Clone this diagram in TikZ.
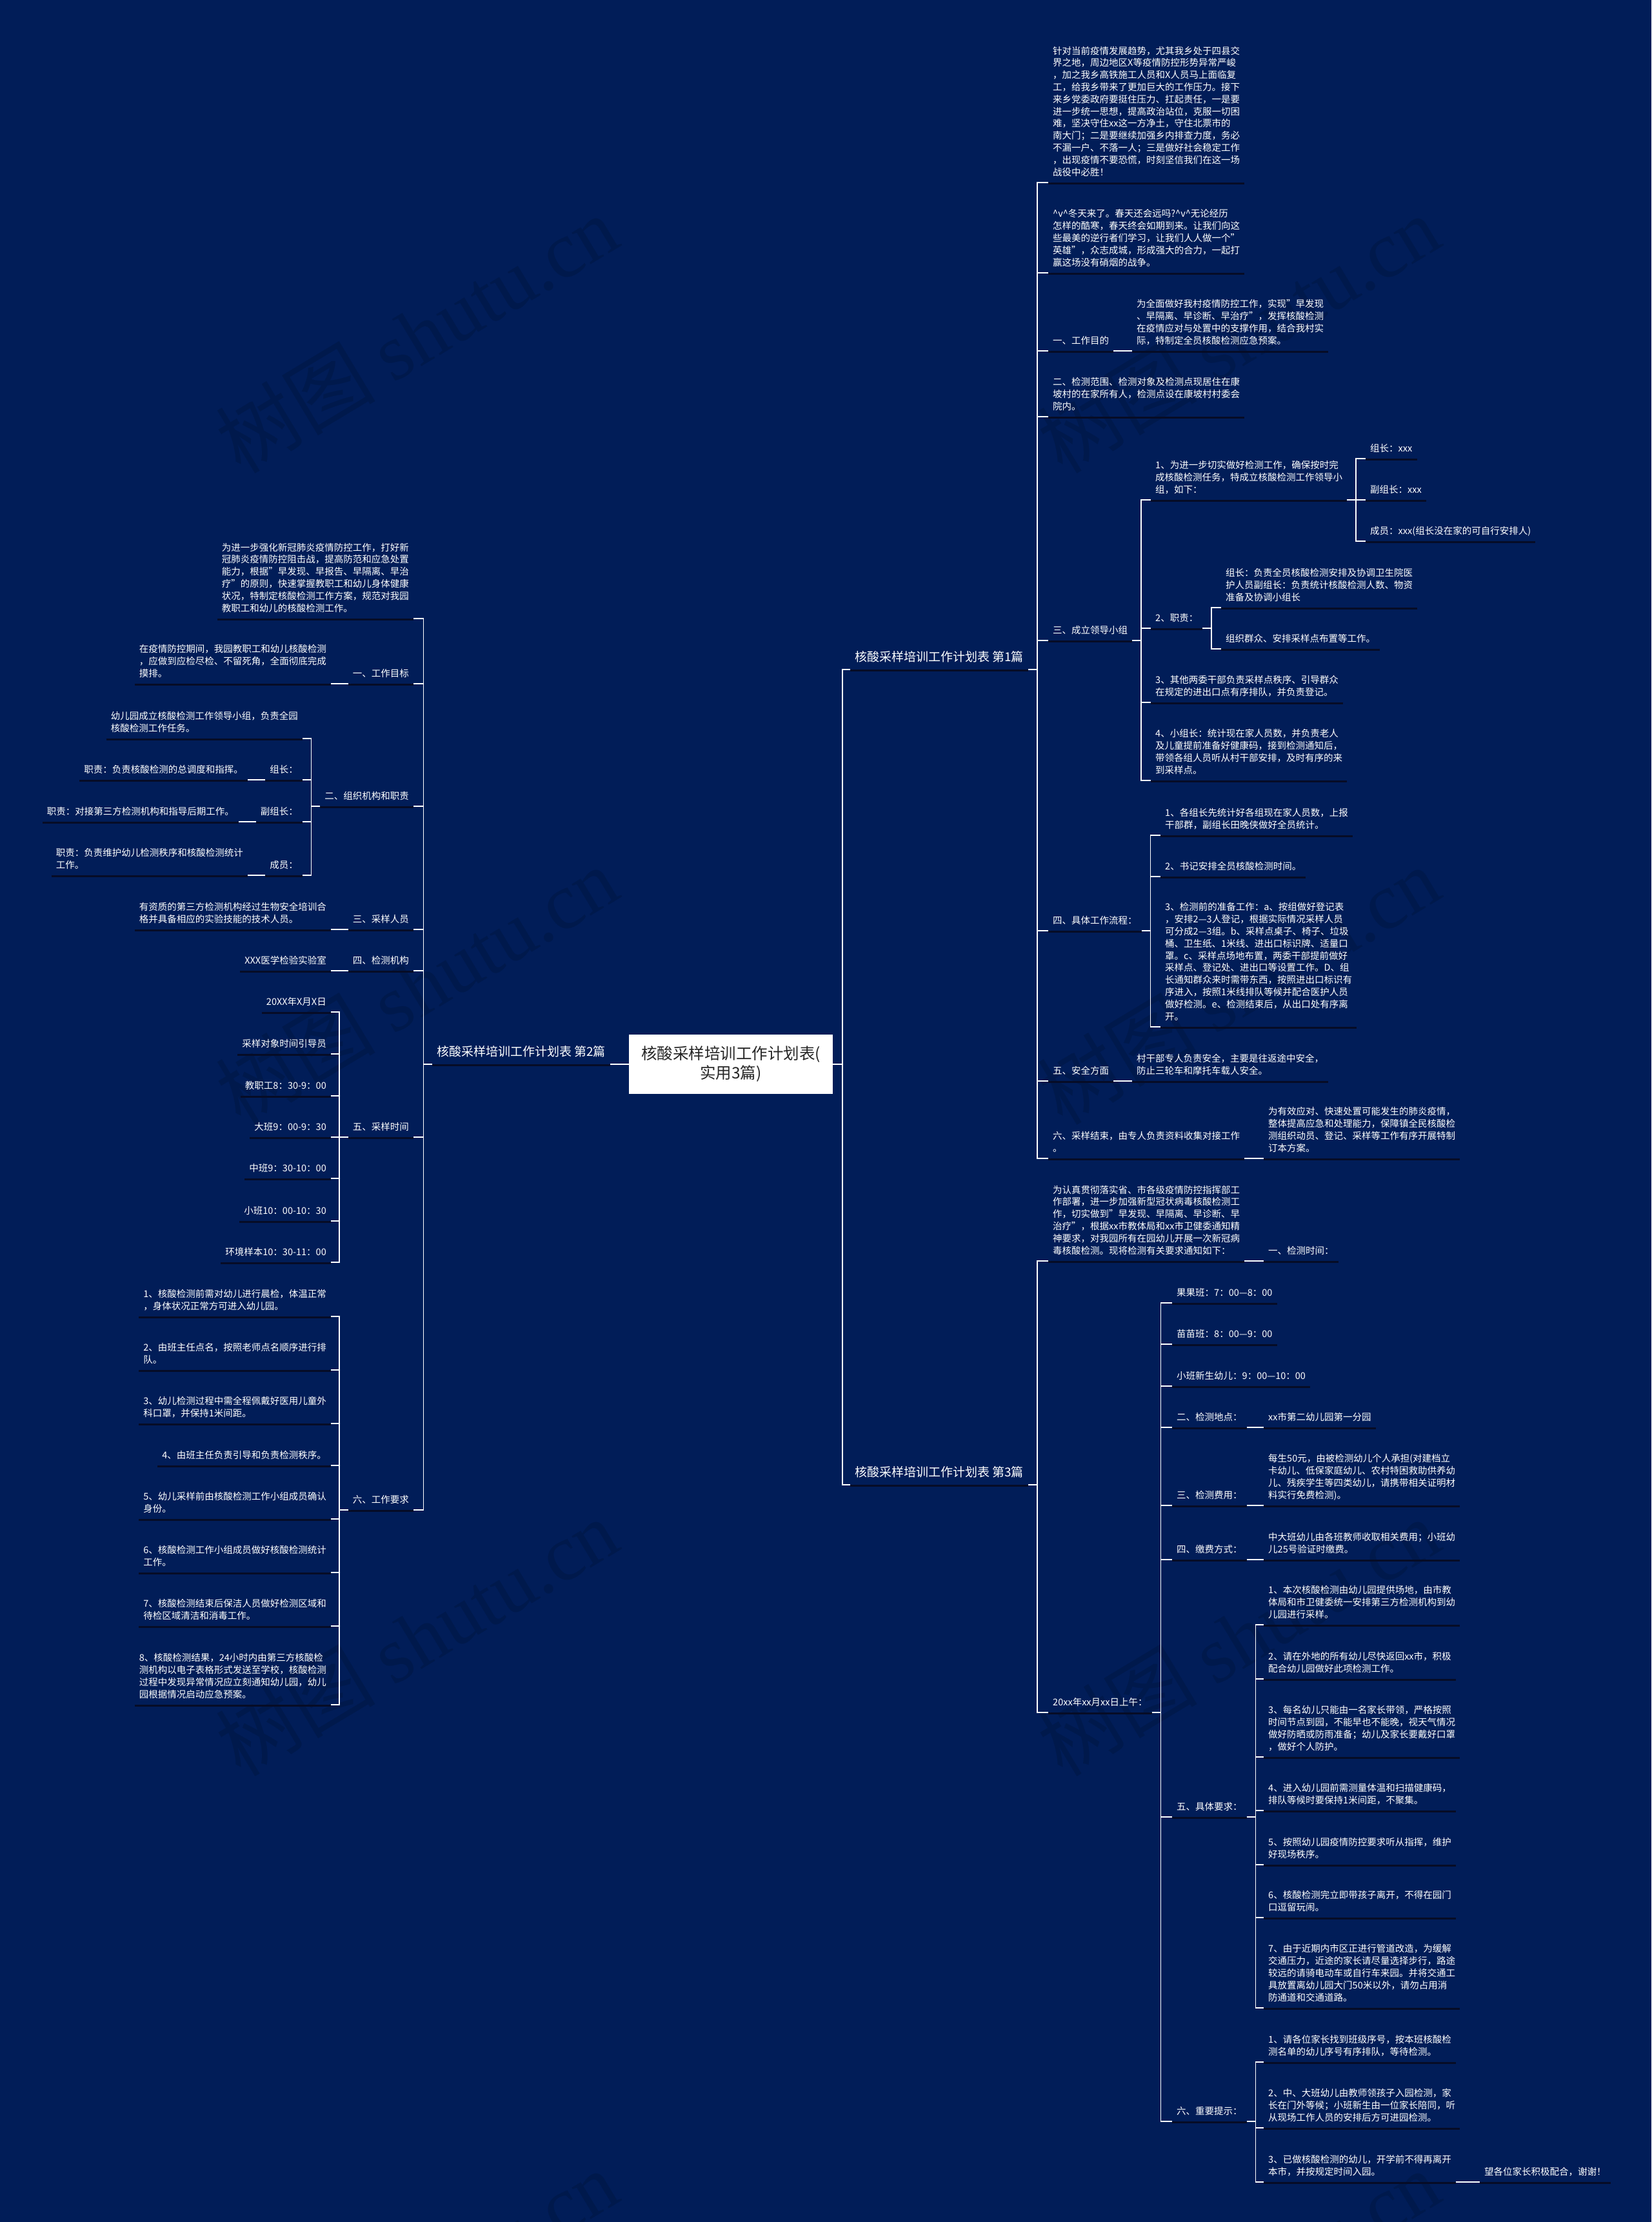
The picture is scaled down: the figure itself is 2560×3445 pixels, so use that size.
\documentclass[tikz,border=0pt]{standalone}
\usepackage{fontspec}
\setmainfont{Noto Sans CJK SC}
\newfontfamily\wmserif{Liberation Serif}
\definecolor{bg}{RGB}{1,29,88}
\definecolor{ulc}{RGB}{6,12,38}
\tikzset{
  tp/.style={inner sep=0pt, text=white, align=left, font=\fontsize{14.5}{18.8}\selectfont, execute at end node=\strut},
  lab/.style={inner sep=0pt, text=white, align=left, font=\fontsize{19}{24}\selectfont, execute at end node=\strut},
  wire/.style={draw=white, line width=1.6pt},
  ulline/.style={draw=ulc, line width=3.5pt},
  rootbox/.style={fill=white, text=black!85, minimum width=316pt, minimum height=92pt, align=center, font=\fontsize{24.5}{30}\selectfont, inner sep=0pt},
  wm/.style={rotate=31, text=black, opacity=0.13, inner sep=0pt, font=\fontsize{124}{124}\selectfont}
}
% right-side topic: [style]{name}{x of text}{underline y}{text}
\newcommand\RN[5][tp]{%
  \node[#1,anchor=south west] (#2) at (#3,#4-5) {#5};
  \coordinate (#2-l) at ([xshift=-7pt,yshift=-5pt]#2.south west);
  \coordinate (#2-r) at ([xshift=7pt,yshift=-5pt]#2.south east);
  \draw[ulline] ([yshift=-1.6pt]#2-l) -- ([yshift=-1.6pt]#2-r);
}
% left-side topic: [style]{name}{right x of text}{underline y}{text}
\newcommand\LN[5][tp]{%
  \node[#1,anchor=south east] (#2) at (#3,#4-5) {#5};
  \coordinate (#2-l) at ([xshift=-7pt,yshift=-5pt]#2.south west);
  \coordinate (#2-r) at ([xshift=7pt,yshift=-5pt]#2.south east);
  \draw[ulline] ([yshift=-1.6pt]#2-l) -- ([yshift=-1.6pt]#2-r);
}
\newcommand\linkR[2]{\draw[wire] (#1-r) -- ++(13.5,0) |- (#2-l);}
\newcommand\linkL[2]{\draw[wire] (#1-l) -- ++(-13.5,0) |- (#2-r);}
\begin{document}
\begin{tikzpicture}[x=1pt,y=-1pt]
\fill[bg] (0,0) rectangle (2560,3445);
\useasboundingbox (0,0) rectangle (2560,3445);
% watermarks
\node[wm] (wm1) at (646,518) {树图 {\wmserif shutu.cn}};
\node[wm] (wm2) at (1920,518) {树图 {\wmserif shutu.cn}};
\node[wm] (wm3) at (646,1528) {树图 {\wmserif shutu.cn}};
\node[wm] (wm4) at (1920,1528) {树图 {\wmserif shutu.cn}};
\node[wm] (wm5) at (646,2538) {树图 {\wmserif shutu.cn}};
\node[wm] (wm6) at (1920,2538) {树图 {\wmserif shutu.cn}};
\node[wm] (wm7) at (646,3548) {树图 {\wmserif shutu.cn}};
\node[wm] (wm8) at (1920,3548) {树图 {\wmserif shutu.cn}};

% root
\node[rootbox] (root) at (1133,1650) {核酸采样培训工作计划表(\\实用3篇)};

% ===== branch 1 (right) =====
\RN[lab]{b1}{1325}{1038}{核酸采样培训工作计划表 第1篇}
\RN{r1a}{1632}{283}{针对当前疫情发展趋势，尤其我乡处于四县交\\界之地，周边地区X等疫情防控形势异常严峻\\，加之我乡高铁施工人员和X人员马上面临复\\工，给我乡带来了更加巨大的工作压力。接下\\来乡党委政府要挺住压力、扛起责任，一是要\\进一步统一思想，提高政治站位，克服一切困\\难，坚决守住xx这一方净土，守住北票市的\\南大门；二是要继续加强乡内排查力度，务必\\不漏一户、不落一人；三是做好社会稳定工作\\，出现疫情不要恐慌，时刻坚信我们在这一场\\战役中必胜！}
\RN{r1b}{1632}{423}{\textasciicircum{}v\textasciicircum{}冬天来了。春天还会远吗?\textasciicircum{}v\textasciicircum{}无论经历\\怎样的酷寒，春天终会如期到来。让我们向这\\些最美的逆行者们学习，让我们人人做一个"\\英雄"，众志成城，形成强大的合力，一起打\\赢这场没有硝烟的战争。}
\RN{r1c}{1632}{544}{一、工作目的}
\RN{r1c1}{1762}{544}{为全面做好我村疫情防控工作，实现"早发现\\、早隔离、早诊断、早治疗"，发挥核酸检测\\在疫情应对与处置中的支撑作用，结合我村实\\际，特制定全员核酸检测应急预案。}
\RN{r1d}{1632}{646}{二、检测范围、检测对象及检测点现居住在康\\坡村的在家所有人，检测点设在康坡村村委会\\院内。}
\RN{r1e}{1632}{993}{三、成立领导小组}
\RN{r1e1}{1791}{775}{1、为进一步切实做好检测工作，确保按时完\\成核酸检测任务，特成立核酸检测工作领导小\\组，如下：}
\RN{r1e1a}{2124}{711}{组长：xxx}
\RN{r1e1b}{2124}{775}{副组长：xxx}
\RN{r1e1c}{2124}{839}{成员：xxx(组长没在家的可自行安排人)}
\RN{r1e2}{1791}{974}{2、职责：}
\RN{r1e2a}{1900}{942}{组长：负责全员核酸检测安排及协调卫生院医\\护人员副组长：负责统计核酸检测人数、物资\\准备及协调小组长}
\RN{r1e2b}{1900}{1006}{组织群众、安排采样点布置等工作。}
\RN{r1e3}{1791}{1089}{3、其他两委干部负责采样点秩序、引导群众\\在规定的进出口点有序排队，并负责登记。}
\RN{r1e4}{1791}{1210}{4、小组长：统计现在家人员数，并负责老人\\及儿童提前准备好健康码，接到检测通知后，\\带领各组人员听从村干部安排，及时有序的来\\到采样点。}
\RN{r1f}{1632}{1443}{四、具体工作流程：}
\RN{r1f1}{1806}{1295}{1、各组长先统计好各组现在家人员数，上报\\干部群，副组长田晚侠做好全员统计。}
\RN{r1f2}{1806}{1359}{2、书记安排全员核酸检测时间。}
\RN{r1f3}{1806}{1592}{3、检测前的准备工作：a、按组做好登记表\\，安排2—3人登记，根据实际情况采样人员\\可分成2—3组。b、采样点桌子、椅子、垃圾\\桶、卫生纸、1米线、进出口标识牌、适量口\\罩。c、采样点场地布置，两委干部提前做好\\采样点、登记处、进出口等设置工作。D、组\\长通知群众来时需带东西，按照进出口标识有\\序进入，按照1米线排队等候并配合医护人员\\做好检测。e、检测结束后，从出口处有序离\\开。}
\RN{r1g}{1632}{1676}{五、安全方面}
\RN{r1g1}{1762}{1676}{村干部专人负责安全，主要是往返途中安全，\\防止三轮车和摩托车载人安全。}
\RN{r1h}{1632}{1796}{六、采样结束，由专人负责资料收集对接工作\\。}
\RN{r1h1}{1966}{1796}{为有效应对、快速处置可能发生的肺炎疫情，\\整体提高应急和处理能力，保障镇全民核酸检\\测组织动员、登记、采样等工作有序开展特制\\订本方案。}

% ===== branch 3 (right) =====
\RN[lab]{b3}{1325}{2302}{核酸采样培训工作计划表 第3篇}
\RN{r3a}{1632}{1955}{为认真贯彻落实省、市各级疫情防控指挥部工\\作部署，进一步加强新型冠状病毒核酸检测工\\作，切实做到"早发现、早隔离、早诊断、早\\治疗"，根据xx市教体局和xx市卫健委通知精\\神要求，对我园所有在园幼儿开展一次新冠病\\毒核酸检测。现将检测有关要求通知如下：}
\RN{r3a1}{1966}{1955}{一、检测时间：}
\RN{r3b}{1632}{2655}{20xx年xx月xx日上午：}
\RN{r3b1}{1824}{2020}{果果班：7：00—8：00}
\RN{r3b2}{1824}{2084}{苗苗班：8：00—9：00}
\RN{r3b3}{1824}{2149}{小班新生幼儿：9：00—10：00}
\RN{r3b4}{1824}{2213}{二、检测地点：}
\RN{r3b4a}{1966}{2213}{xx市第二幼儿园第一分园}
\RN{r3b5}{1824}{2334}{三、检测费用：}
\RN{r3b5a}{1966}{2334}{每生50元，由被检测幼儿个人承担(对建档立\\卡幼儿、低保家庭幼儿、农村特困救助供养幼\\儿、残疾学生等四类幼儿，请携带相关证明材\\料实行免费检测)。}
\RN{r3b6}{1824}{2418}{四、缴费方式：}
\RN{r3b6a}{1966}{2418}{中大班幼儿由各班教师收取相关费用；小班幼\\儿25号验证时缴费。}
\RN{r3b7}{1824}{2817}{五、具体要求：}
\RN{r3b7a}{1966}{2519}{1、本次核酸检测由幼儿园提供场地，由市教\\体局和市卫健委统一安排第三方检测机构到幼\\儿园进行采样。}
\RN{r3b7b}{1966}{2603}{2、请在外地的所有幼儿尽快返回xx市，积极\\配合幼儿园做好此项检测工作。}
\RN{r3b7c}{1966}{2724}{3、每名幼儿只能由一名家长带领，严格按照\\时间节点到园，不能早也不能晚，视天气情况\\做好防晒或防雨准备；幼儿及家长要戴好口罩\\，做好个人防护。}
\RN{r3b7d}{1966}{2807}{4、进入幼儿园前需测量体温和扫描健康码，\\排队等候时要保持1米间距，不聚集。}
\RN{r3b7e}{1966}{2891}{5、按照幼儿园疫情防控要求听从指挥，维护\\好现场秩序。}
\RN{r3b7f}{1966}{2973}{6、核酸检测完立即带孩子离开，不得在园门\\口逗留玩闹。}
\RN{r3b7g}{1966}{3113}{7、由于近期内市区正进行管道改造，为缓解\\交通压力，近途的家长请尽量选择步行，路途\\较远的请骑电动车或自行车来园。并将交通工\\具放置离幼儿园大门50米以外，请勿占用消\\防通道和交通道路。}
\RN{r3b8}{1824}{3289}{六、重要提示：}
\RN{r3b8a}{1966}{3197}{1、请各位家长找到班级序号，按本班核酸检\\测名单的幼儿序号有序排队，等待检测。}
\RN{r3b8b}{1966}{3299}{2、中、大班幼儿由教师领孩子入园检测，家\\长在门外等候；小班新生由一位家长陪同，听\\从现场工作人员的安排后方可进园检测。}
\RN{r3b8c}{1966}{3383}{3、已做核酸检测的幼儿，开学前不得再离开\\本市，并按规定时间入园。}
\RN{r3b8d}{2301}{3383}{望各位家长积极配合，谢谢！}

% ===== branch 2 (left) =====
\LN[lab]{b2}{939}{1650}{核酸采样培训工作计划表 第2篇}
\LN{l1}{634}{959}{为进一步强化新冠肺炎疫情防控工作，打好新\\冠肺炎疫情防控阻击战，提高防范和应急处置\\能力，根据"早发现、早报告、早隔离、早治\\疗"的原则，快速掌握教职工和幼儿身体健康\\状况，特制定核酸检测工作方案，规范对我园\\教职工和幼儿的核酸检测工作。}
\LN{l2}{634}{1060}{一、工作目标}
\LN{l2a}{506}{1060}{在疫情防控期间，我园教职工和幼儿核酸检测\\，应做到应检尽检、不留死角，全面彻底完成\\摸排。}
\LN{l3}{634}{1250}{二、组织机构和职责}
\LN{l3a}{462}{1145}{幼儿园成立核酸检测工作领导小组，负责全园\\核酸检测工作任务。}
\LN{l3b}{462}{1209}{组长：}
\LN{l3b1}{377}{1209}{职责：负责核酸检测的总调度和指挥。}
\LN{l3c}{462}{1274}{副组长：}
\LN{l3c1}{363}{1274}{职责：对接第三方检测机构和指导后期工作。}
\LN{l3d}{462}{1357}{成员：}
\LN{l3d1}{377}{1357}{职责：负责维护幼儿检测秩序和核酸检测统计\\工作。}
\LN{l4}{634}{1441}{三、采样人员}
\LN{l4a}{506}{1441}{有资质的第三方检测机构经过生物安全培训合\\格并具备相应的实验技能的技术人员。}
\LN{l5}{634}{1505}{四、检测机构}
\LN{l5a}{506}{1505}{XXX医学检验实验室}
\LN{l6}{634}{1763}{五、采样时间}
\LN{l6a}{506}{1569}{20XX年X月X日}
\LN{l6b}{506}{1634}{采样对象时间引导员}
\LN{l6c}{506}{1699}{教职工8：30-9：00}
\LN{l6d}{506}{1763}{大班9：00-9：30}
\LN{l6e}{506}{1827}{中班9：30-10：00}
\LN{l6f}{506}{1893}{小班10：00-10：30}
\LN{l6g}{506}{1957}{环境样本10：30-11：00}
\LN{l7}{634}{2341}{六、工作要求}
\LN{l7a}{506}{2041}{1、核酸检测前需对幼儿进行晨检，体温正常\\，身体状况正常方可进入幼儿园。}
\LN{l7b}{506}{2124}{2、由班主任点名，按照老师点名顺序进行排\\队。}
\LN{l7c}{506}{2207}{3、幼儿检测过程中需全程佩戴好医用儿童外\\科口罩，并保持1米间距。}
\LN{l7d}{506}{2272}{4、由班主任负责引导和负责检测秩序。}
\LN{l7e}{506}{2355}{5、幼儿采样前由核酸检测工作小组成员确认\\身份。}
\LN{l7f}{506}{2438}{6、核酸检测工作小组成员做好核酸检测统计\\工作。}
\LN{l7g}{506}{2521}{7、核酸检测结束后保洁人员做好检测区域和\\待检区域清洁和消毒工作。}
\LN{l7h}{506}{2643}{8、核酸检测结果，24小时内由第三方核酸检\\测机构以电子表格形式发送至学校，核酸检测\\过程中发现异常情况应立刻通知幼儿园，幼儿\\园根据情况启动应急预案。}

% ===== connectors =====
\draw[wire] (root.east) -- ++(14.5,0) |- (b1-l);
\draw[wire] (root.east) -- ++(14.5,0) |- (b3-l);
\draw[wire] (root.west) -- (b2-r);
\foreach \c in {r1a,r1b,r1c,r1d,r1e,r1f,r1g,r1h} {\linkR{b1}{\c}}
\linkR{r1c}{r1c1}
\foreach \c in {r1e1,r1e2,r1e3,r1e4} {\linkR{r1e}{\c}}
\foreach \c in {r1e1a,r1e1b,r1e1c} {\linkR{r1e1}{\c}}
\foreach \c in {r1e2a,r1e2b} {\linkR{r1e2}{\c}}
\foreach \c in {r1f1,r1f2,r1f3} {\linkR{r1f}{\c}}
\linkR{r1g}{r1g1}
\linkR{r1h}{r1h1}
\foreach \c in {r3a,r3b} {\linkR{b3}{\c}}
\linkR{r3a}{r3a1}
\foreach \c in {r3b1,r3b2,r3b3,r3b4,r3b5,r3b6,r3b7,r3b8} {\linkR{r3b}{\c}}
\linkR{r3b4}{r3b4a}
\linkR{r3b5}{r3b5a}
\linkR{r3b6}{r3b6a}
\foreach \c in {r3b7a,r3b7b,r3b7c,r3b7d,r3b7e,r3b7f,r3b7g} {\linkR{r3b7}{\c}}
\foreach \c in {r3b8a,r3b8b,r3b8c} {\linkR{r3b8}{\c}}
\linkR{r3b8c}{r3b8d}
\foreach \c in {l1,l2,l3,l4,l5,l6,l7} {\linkL{b2}{\c}}
\linkL{l2}{l2a}
\foreach \c in {l3a,l3b,l3c,l3d} {\linkL{l3}{\c}}
\linkL{l3b}{l3b1}
\linkL{l3c}{l3c1}
\linkL{l3d}{l3d1}
\linkL{l4}{l4a}
\linkL{l5}{l5a}
\foreach \c in {l6a,l6b,l6c,l6d,l6e,l6f,l6g} {\linkL{l6}{\c}}
\foreach \c in {l7a,l7b,l7c,l7d,l7e,l7f,l7g,l7h} {\linkL{l7}{\c}}
\end{tikzpicture}
\end{document}
